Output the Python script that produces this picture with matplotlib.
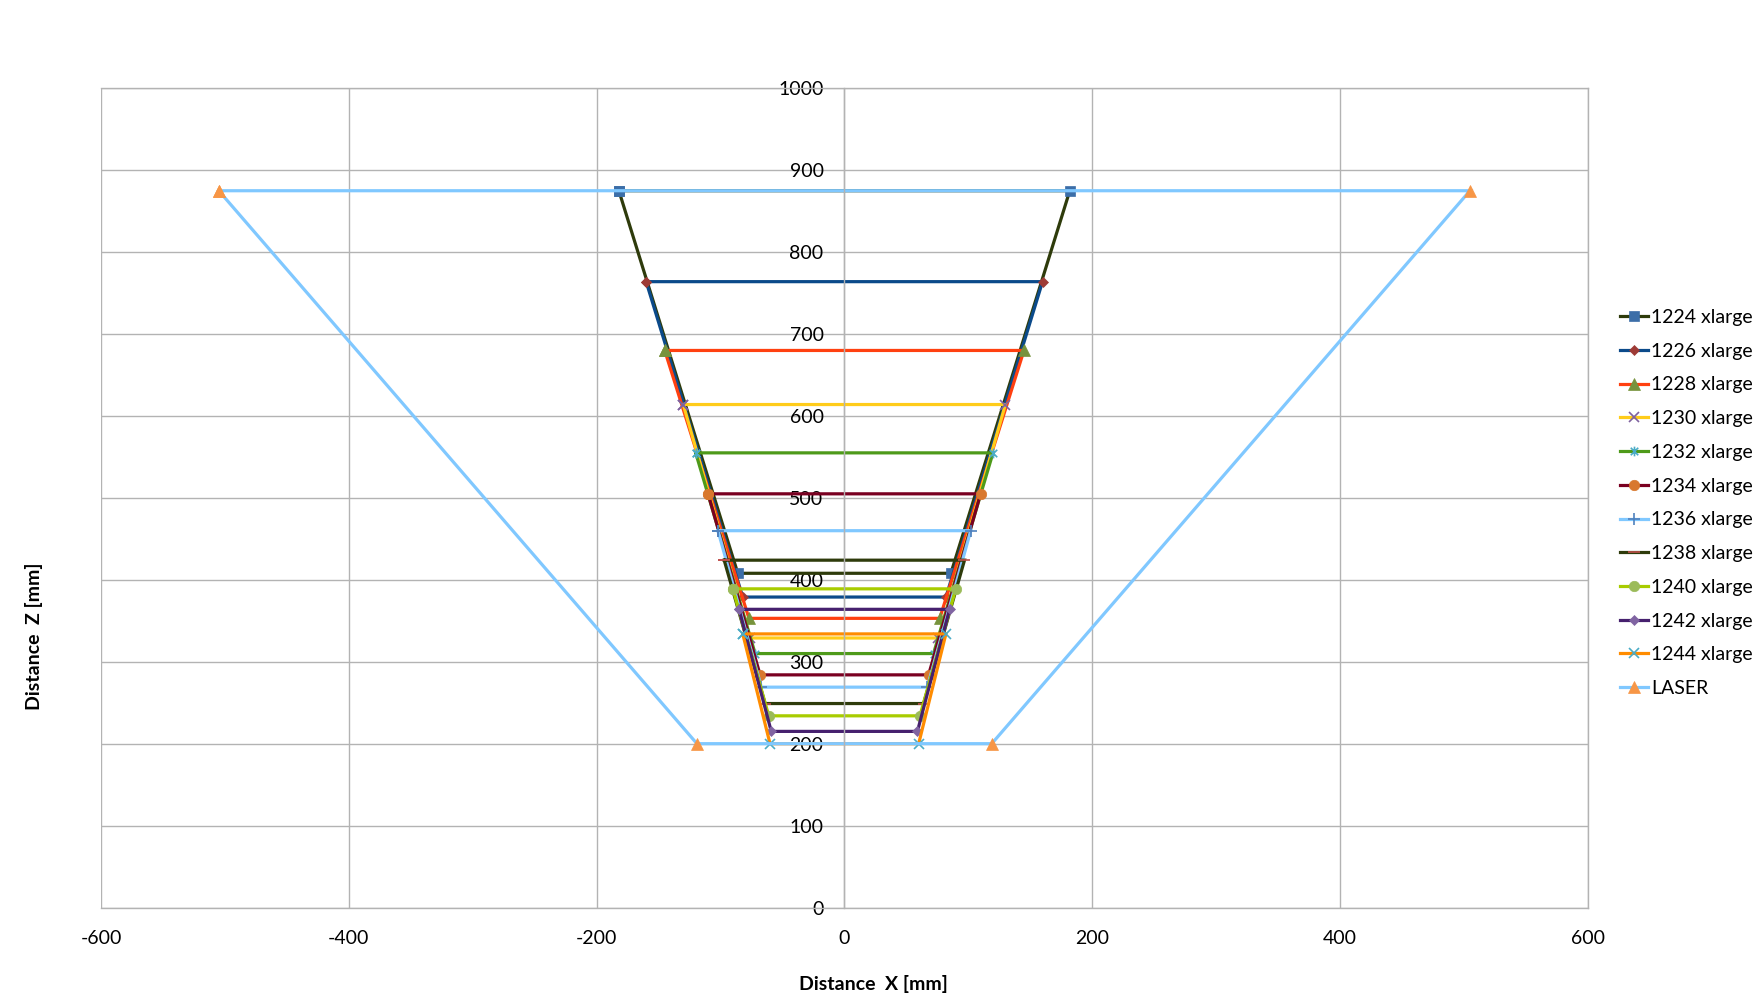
import matplotlib
matplotlib.use('Agg')
import matplotlib.pyplot as plt
from matplotlib.path import Path

plt.rcParams['font.family'] = ['Lato', 'DejaVu Sans']
plt.rcParams['axes.unicode_minus'] = False

# series: closed trapezoids, top edge and bottom edge (symmetric about x=0)
names = ['1224 xlarge', '1226 xlarge', '1228 xlarge', '1230 xlarge', '1232 xlarge',
         '1234 xlarge', '1236 xlarge', '1238 xlarge', '1240 xlarge', '1242 xlarge',
         '1244 xlarge', 'LASER']
top_z = [875, 764, 680, 614, 555, 505, 460, 424, 389, 364, 334, 875]
top_x = [182, 160, 145, 130, 120, 110, 102, 97, 90, 85, 82, 505]
bot_z = [408, 379, 353, 329, 310, 284, 269, 249, 234, 215, 200, 200]
bot_x = [86, 82, 77, 76, 72, 68, 67, 64, 61, 59, 60, 119]

line_col = ['#2E3B0B', '#0B4A8A', '#FF4010', '#FFCC1A', '#4E9A1A', '#7A0021',
            '#80C8FF', '#2E3B0B', '#A8CC00', '#46206E', '#FF8C00', '#80C8FF']
mark_col = ['#3C6EA8', '#9E3B36', '#77933C', '#7F62A0', '#4BACC6', '#D8782E',
            '#4F81BD', '#C0504D', '#9BBB59', '#8064A2', '#4BACC6', '#F79646']

star = Path([(-1, -1), (1, 1), (-1, 1), (1, -1), (0, -1.3), (0, 1.3)],
            [Path.MOVETO, Path.LINETO, Path.MOVETO, Path.LINETO, Path.MOVETO, Path.LINETO])
markers = ['s', 'D', '^', 'x', star, 'o', '+', '_', 'o', 'D', 'x', '^']
msizes = [7, 5.5, 8, 7, 7, 7.5, 9, 8, 7.5, 5.5, 7, 8]

fig = plt.figure(figsize=(17.64, 10.06), dpi=100)
ax = fig.add_axes([0.0573, 0.0979, 0.8427, 0.8143])

for i in range(len(names)):
    xs = [-top_x[i], top_x[i], bot_x[i], -bot_x[i], -top_x[i]]
    zs = [top_z[i], top_z[i], bot_z[i], bot_z[i], top_z[i]]
    m = markers[i]
    ax.plot(xs, zs, color=line_col[i], lw=2.3, marker=m, ms=msizes[i],
            markerfacecolor=mark_col[i], markeredgecolor=mark_col[i],
            markeredgewidth=1.2 if m in ('x', '+', '_') or m is star else 0.5,
            label=names[i], solid_joinstyle='miter')

ax.set_xlim(-600, 600)
ax.set_ylim(0, 1000)
ax.set_xticks(range(-600, 601, 200))
ax.set_yticks(range(0, 1001, 100))
ax.grid(True, color='#B3B3B3', lw=1)
ax.set_axisbelow(True)
for s in ax.spines.values():
    s.set_color('#B3B3B3')
    s.set_linewidth(1)
ax.spines['left'].set_position(('data', 0))
ax.tick_params(length=0, labelsize=14, colors='black')
ax.tick_params(axis='y', pad=15)
ax.tick_params(axis='x', pad=16)

fig.text(873 / 1764, 1 - 984 / 1006, 'Distance  X [mm]', fontsize=14, fontweight='bold',
         ha='center', va='center')
fig.text(34 / 1764, 1 - 636 / 1006, 'Distance  Z [mm]', fontsize=14, fontweight='bold',
         ha='center', va='center', rotation=90)

fig.legend(loc='center left', bbox_to_anchor=(0.9185, 0.5), frameon=False, fontsize=14,
           handlelength=1.45, handletextpad=0.12, labelspacing=0.86, borderpad=0,
           borderaxespad=0)

fig.savefig('out.png', dpi=100)
